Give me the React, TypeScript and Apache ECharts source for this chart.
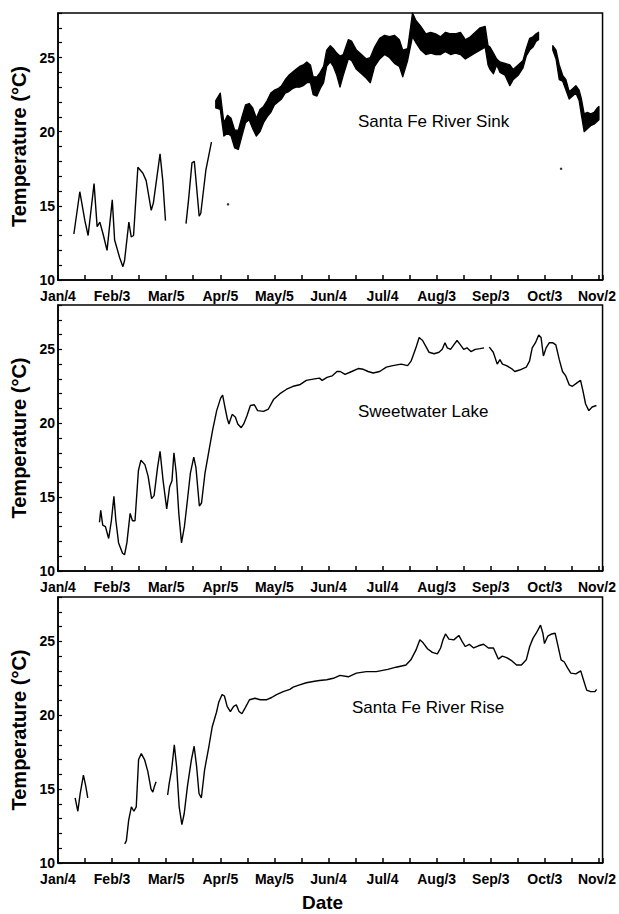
import React, { useEffect, useRef } from 'react';
import * as echarts from 'echarts';

// x axis: days after Jan 4
const tickLabels = ['Jan/4', 'Feb/3', 'Mar/5', 'Apr/5', 'May/5', 'Jun/4', 'Jul/4', 'Aug/3', 'Sep/3', 'Oct/3', 'Nov/2'];
const panelNames = ['Santa Fe River Sink', 'Sweetwater Lake', 'Santa Fe River Rise'];
const yAxisTitle = 'Temperature (°C)';
const xAxisTitle = 'Date';

// Santa Fe River Sink: early smooth record (null = gap)
const sinkDays = [8.8, 12.1, 14.9, 16.7, 20.0, 21.7, 23.2, 25.0, 27.2, 30.1, 31.4, 34.2, 36.0, 36.9, 39.3, 40.6, 41.9, 44.3, 47.1, 48.9, 51.7, 52.9, 56.6, 58.1, 59.6,
  65,
  71.0, 72.4, 74.3, 75.6, 78.3, 79.2, 82.0, 83.8, 85.1];
const sinkTemp = [13.1, 15.95, 14.0, 13.0, 16.5, 13.6, 13.9, 13.1, 12.0, 15.4, 12.7, 11.5, 10.9, 11.3, 13.9, 12.9, 13.0, 17.6, 17.2, 16.7, 14.7, 15.2, 18.5, 16.7, 14.0,
  null,
  13.8, 15.4, 17.9, 18.0, 14.3, 14.5, 17.4, 18.5, 19.3];

// Santa Fe River Sink: noisy record shown as the envelope of the trace (null = gap)
const sinkBandDays = [87.5, 90, 92, 94, 96, 98, 100, 102, 104, 106, 108, 110, 112, 114, 116, 118, 120, 122, 124, 126, 128, 130, 132, 134, 136, 138, 140, 141.5, 143.6, 145.4, 147.3, 149, 151, 152.7, 154.6, 156.4, 158.2, 161, 162.8, 165.5, 168.3, 171, 173.2, 175.6, 178.4, 181.1, 183.8, 186.6, 189.3, 191.2, 193.9, 196.6, 198.5, 201.2, 204, 206.7, 209.4, 212.2, 214.9, 217.7, 220.4, 223.2, 225.9, 228.7, 231.4, 234.1, 236.9, 238.5, 239.6, 241.5, 243.3, 245.1, 247.9, 250.6, 252.4, 255.2, 257.9, 259.7, 261.6, 263.4, 265.2, 266.5,
  270,
  274.4, 276.2, 278, 279.9, 281.7, 283.5, 285.4, 287.2, 289, 290.3, 291.8, 293.6, 295.4, 297.3, 299.1, 300];
const sinkBandLow = [21.6, 21.5, 19.7, 19.9, 19.7, 18.9, 18.8, 19.7, 20.6, 20.8, 20.2, 19.7, 20.0, 20.6, 21.0, 21.3, 21.8, 22.0, 22.2, 22.6, 22.7, 22.9, 23.0, 23.0, 23.1, 23.3, 23.3, 22.5, 22.4, 22.9, 23.3, 24.4, 24.7, 24.4, 23.8, 23.0, 23.8, 24.9, 24.8, 24.2, 23.9, 23.6, 23.3, 24.4, 24.9, 25.2, 25.0, 24.6, 24.4, 23.7, 24.8, 26.4, 26.0, 25.5, 25.2, 25.3, 25.2, 25.2, 25.4, 25.2, 25.3, 25.2, 24.9, 25.1, 25.3, 25.5, 25.7, 24.5, 24.2, 23.9, 24.5, 24.0, 23.8, 23.1, 23.5, 23.8, 24.3, 25.1, 25.5, 25.7, 26.1, 26.2,
  null,
  25.5, 24.9, 23.5, 23.4, 22.8, 22.2, 22.4, 22.6, 22.1, 21.1, 20.0, 20.2, 20.4, 20.5, 20.7, 20.8];
const sinkBandHigh = [22.1, 22.6, 20.6, 21.1, 20.9, 20.1, 20.1, 21.0, 21.8, 21.9, 21.6, 20.9, 21.5, 21.7, 22.1, 22.6, 22.8, 22.9, 23.1, 23.5, 23.8, 24.0, 24.2, 24.4, 24.5, 24.7, 24.5, 23.7, 23.7, 24.0, 24.4, 25.5, 25.8, 25.6, 25.3, 25.1, 25.2, 26.2, 26.1, 25.5, 25.2, 24.9, 25.0, 25.7, 26.3, 26.5, 26.4, 26.5, 26.2, 25.5, 25.6, 28.0, 27.5, 27.1, 26.6, 26.7, 26.6, 26.4, 26.7, 26.6, 26.6, 26.7, 26.2, 26.4, 26.7, 27.0, 27.1, 25.8, 25.7, 25.3, 24.9, 24.7, 24.6, 24.5, 24.2, 24.5, 24.8, 25.6, 26.3, 26.4, 26.6, 26.7,
  null,
  25.8, 25.5, 24.5, 23.8, 23.5, 22.7, 22.9, 23.1, 22.8, 22.2, 21.2, 21.3, 21.2, 21.3, 21.6, 21.7];
// isolated readings
const sinkDotDays = [94.3, 279];
const sinkDotTemp = [15.1, 17.5];

// Sweetwater Lake
const lakeDays = [23.0, 23.7, 24.8, 26.3, 28.1, 29.6, 31.0, 32.1, 33.6, 35.8, 36.9, 38.2, 40.0, 41.3, 42.7, 44.6, 46.0, 48.2, 50.0, 51.9, 53.3, 55.2, 56.6, 58.3, 60.3, 61.9, 63.2, 64.3, 65.6, 67.0, 68.5, 70.1, 71.6, 73.4, 75.3, 76.5, 78.4, 79.6, 81.5, 83.8, 85.7, 88.0, 90.2, 91.3, 92.4, 93.9, 94.8, 96.6, 98.4, 99.7, 101.6, 103.0, 104.8, 106.7, 108.9, 110.7, 114.0, 116.7, 119.5, 123.1, 126.8, 130.4, 134.0, 137.7, 142.3, 145.0, 146.5, 149.2, 152.0, 154.7, 156.5, 159.2, 162.9, 166.5, 169.3, 172.0, 174.8, 178.4, 182.1, 185.7, 190.3, 193.9, 195.8, 198.5, 200.3, 202.2, 204.0, 205.8, 208.6, 211.3, 213.1, 214.6, 215.9, 217.7, 219.5, 221.3, 223.2, 225.0, 226.8, 229.0, 231.4, 234.1, 236.3,
  237.7,
  239.2, 241.4, 243.6, 245.1, 246.5, 248.7, 251.5, 253.3, 256.0, 259.7, 261.5, 263.0, 264.8, 266.6, 267.9, 269.2, 270.7, 272.5, 274.3, 276.1, 278.0, 279.8, 281.6, 283.5, 285.3, 288.0, 289.8, 291.1, 292.6, 294.4, 296.2, 298.6];
const lakeTemp = [13.3, 14.1, 13.1, 13.0, 12.2, 13.4, 15.05, 13.4, 11.9, 11.2, 11.1, 11.9, 13.9, 13.4, 13.4, 16.8, 17.5, 17.2, 16.4, 14.9, 15.1, 17.0, 18.1, 16.1, 14.2, 15.7, 16.1, 18.0, 16.6, 13.9, 11.9, 13.0, 14.6, 16.6, 17.7, 17.0, 14.4, 14.6, 16.6, 18.2, 19.5, 20.85, 21.7, 21.9, 21.2, 20.3, 19.95, 20.6, 20.4, 19.95, 19.7, 19.95, 20.5, 21.2, 21.25, 20.85, 20.8, 20.96, 21.6, 22.0, 22.3, 22.5, 22.6, 22.9, 23.0, 23.05, 22.9, 23.1, 23.2, 23.5, 23.5, 23.3, 23.5, 23.7, 23.65, 23.5, 23.4, 23.5, 23.8, 23.9, 24.0, 23.9, 24.2, 25.1, 25.8, 25.6, 25.2, 24.8, 24.7, 24.8, 25.0, 25.45, 25.1, 25.0, 25.3, 25.6, 25.3, 25.0, 25.1, 24.85, 25.0, 25.05, 25.1,
  null,
  25.15, 24.8, 24.0, 24.3, 24.0, 23.9, 23.7, 23.5, 23.6, 23.8, 24.2, 25.1, 25.45, 25.97, 25.8, 24.55, 25.1, 25.45, 25.45, 25.3, 24.3, 23.5, 23.2, 22.6, 22.5, 22.75, 22.9, 22.2, 21.3, 20.85, 21.1, 21.2];

// Santa Fe River Rise
const riseDays = [9.5, 11.0, 12.3, 14.1, 15.4, 16.5,
  25,
  37.0, 37.9, 39.2, 40.7, 42.1, 43.4, 44.7, 46.2, 48.0, 49.8, 51.6, 52.6, 53.5, 54.4,
  57,
  60.8, 61.7, 63.0, 64.5, 65.8, 67.2, 68.7, 70.0, 71.8, 74.0, 75.5, 76.9, 78.2, 79.5, 81.3, 83.7, 85.5, 87.9, 89.2, 91.0, 92.3, 93.8, 95.6, 97.4, 98.9, 100.4, 102.0, 103.8, 106.2, 109.3, 112.1, 115.8, 118.5, 121.2, 124.9, 128.6, 130.4, 134.0, 137.7, 142.3, 145.0, 149.0, 152.7, 156.4, 161.0, 165.5, 171.0, 176.5, 182.9, 187.5, 193.0, 195.7, 198.5, 200.7, 202.5, 204.9, 207.6, 210.4, 212.2, 213.5, 214.9, 216.8, 219.5, 222.3, 224.1, 225.9, 228.1, 230.5, 233.2, 236.0, 238.7, 241.5, 244.2, 246.4, 248.8, 251.5, 254.3, 257.0, 259.7, 261.6, 263.4, 265.2, 267.6, 268.9, 269.8, 271.6, 273.8, 275.7, 277.1, 279.0, 280.8, 282.6, 284.4, 287.2, 289.9, 291.4, 293.2, 295.4, 297.8, 298.7];
const riseTemp = [14.4, 13.5, 14.7, 15.95, 15.2, 14.4,
  null,
  11.3, 11.5, 12.9, 13.8, 13.5, 13.8, 17.0, 17.4, 17.0, 16.2, 15.0, 14.8, 15.2, 15.5,
  null,
  14.6, 15.4, 16.3, 18.0, 16.5, 13.8, 12.6, 13.35, 15.2, 17.0, 17.9, 16.5, 14.7, 14.4, 16.3, 17.9, 19.2, 20.2, 20.9, 21.4, 21.3, 20.6, 20.25, 20.6, 20.7, 20.25, 20.1, 20.5, 21.05, 21.15, 21.05, 21.05, 21.2, 21.4, 21.6, 21.75, 21.9, 22.05, 22.2, 22.3, 22.35, 22.4, 22.5, 22.7, 22.6, 22.85, 22.95, 22.95, 23.1, 23.25, 23.4, 23.75, 24.4, 25.1, 24.9, 24.5, 24.25, 24.15, 24.55, 25.1, 25.5, 25.15, 25.1, 25.4, 25.0, 24.65, 24.8, 24.55, 24.7, 24.8, 24.55, 24.55, 23.8, 24.0, 23.9, 23.7, 23.4, 23.4, 23.75, 24.65, 25.2, 25.55, 26.1, 25.55, 24.85, 25.35, 25.5, 25.55, 24.8, 23.75, 23.6, 23.2, 22.85, 22.8, 23.0, 22.4, 21.7, 21.6, 21.6, 21.75];

const FONT = '"Liberation Sans", Arial, Helvetica, sans-serif';

function splitSegments(values: (number | null)[]): number[][] {
  const segs: number[][] = [];
  let cur: number[] = [];
  values.forEach((v, i) => {
    if (v === null) {
      if (cur.length) segs.push(cur);
      cur = [];
    } else cur.push(i);
  });
  if (cur.length) segs.push(cur);
  return segs;
}

function lineSeries(days: number[], temps: (number | null)[], idx: number) {
  return {
    type: 'line',
    xAxisIndex: idx,
    yAxisIndex: idx,
    data: days.map((d, i) => [d, temps[i]]),
    symbol: 'none',
    connectNulls: false,
    lineStyle: { color: '#000', width: 1.4 },
    silent: true,
  };
}

export default function App() {
  const ref = useRef<HTMLDivElement>(null);

  useEffect(() => {
    if (!ref.current) return;
    const chart = echarts.init(ref.current, undefined, { renderer: 'svg' });

    const grids = [
      { left: 58, top: 13, width: 548, height: 267 },
      { left: 58, top: 305, width: 547, height: 266 },
      { left: 58, top: 597, width: 547, height: 266 },
    ];

    const xAxes = grids.map((_, i) => ({
      gridIndex: i,
      type: 'value',
      min: 0,
      max: 302,
      interval: 15,
      axisLine: { show: true, lineStyle: { color: '#000', width: 1.5 } },
      axisTick: { show: true, inside: true, length: 5, lineStyle: { color: '#000', width: 1.5 } },
      splitLine: { show: false },
      axisLabel: {
        color: '#000',
        fontSize: 14,
        fontWeight: 'bold',
        fontFamily: FONT,
        margin: 9,
        formatter: (v: number) => {
          if (Math.abs(v % 30) > 1e-6) return '';
          const k = Math.round(v / 30);
          if (k === tickLabels.length - 1) return '{r|' + tickLabels[k] + '}';
          return tickLabels[k] ?? '';
        },
        rich: {
          r: { fontSize: 14, fontWeight: 'bold', fontFamily: FONT, color: '#000', padding: [0, 4, 0, 0] },
        },
      },
    }));

    const yAxes = grids.map((_, i) => ({
      gridIndex: i,
      type: 'value',
      min: 10,
      max: 28,
      interval: 1,
      axisLine: { show: true, lineStyle: { color: '#000', width: 1.5 } },
      axisTick: { show: true, inside: true, length: 4, lineStyle: { color: '#000', width: 1.2 } },
      splitLine: { show: false },
      axisLabel: {
        color: '#000',
        fontSize: 14,
        fontWeight: 'bold',
        fontFamily: FONT,
        margin: 3,
        formatter: (v: number) => (v % 5 === 0 ? String(v) : ''),
      },
      name: yAxisTitle,
      nameLocation: 'middle',
      nameGap: 24,
      nameTextStyle: { color: '#000', fontSize: 20, fontWeight: 'bold', fontFamily: FONT },
    }));

    const bandSegs = splitSegments(sinkBandLow);

    const series: any[] = [];
    series.push(lineSeries(sinkDays, sinkTemp, 0));
    series.push({
      type: 'custom',
      xAxisIndex: 0,
      yAxisIndex: 0,
      silent: true,
      encode: { x: 0, y: 1 },
      data: bandSegs.map((seg, k) => [sinkBandDays[seg[0]], sinkBandLow[seg[0]], k]),
      renderItem: (_params: any, api: any) => {
        const seg = bandSegs[api.value(2)];
        const upper = seg.map((i) => api.coord([sinkBandDays[i], sinkBandHigh[i]]));
        const lower = seg.slice().reverse().map((i) => api.coord([sinkBandDays[i], sinkBandLow[i]]));
        return {
          type: 'polygon',
          shape: { points: upper.concat(lower) },
          style: { fill: '#000', stroke: '#000', lineWidth: 1.3, lineJoin: 'round' },
        };
      },
    });
    series.push({
      type: 'scatter', xAxisIndex: 0, yAxisIndex: 0, symbolSize: 2.5, silent: true,
      itemStyle: { color: '#000' },
      data: sinkDotDays.map((d, i) => [d, sinkDotTemp[i]]),
    });
    series.push(lineSeries(lakeDays, lakeTemp, 1));
    series.push(lineSeries(riseDays, riseTemp, 2));

    const titleTops = [113, 403, 699];
    const titleLefts = [358, 358, 352];

    chart.setOption({
      animation: false,
      backgroundColor: '#fff',
      grid: grids.map((g) => ({ ...g, show: true, borderColor: '#000', borderWidth: 1.5, backgroundColor: 'transparent' })),
      xAxis: xAxes,
      yAxis: yAxes,
      series,
      graphic: [
        ...panelNames.map((name, i) => ({
          type: 'text',
          x: titleLefts[i],
          y: titleTops[i],
          silent: true,
          style: { text: name, fontSize: 17, fontFamily: FONT, fill: '#000' },
        })),
        {
          type: 'text',
          x: 302,
          y: 893,
          silent: true,
          style: { text: xAxisTitle, fontSize: 19, fontWeight: 'bold', fontFamily: FONT, fill: '#000' },
        },
      ],
    });

    return () => chart.dispose();
  }, []);

  return <div ref={ref} style={{ position: 'fixed', left: 0, top: 0, width: 619, height: 914, background: '#fff' }} />;
}
